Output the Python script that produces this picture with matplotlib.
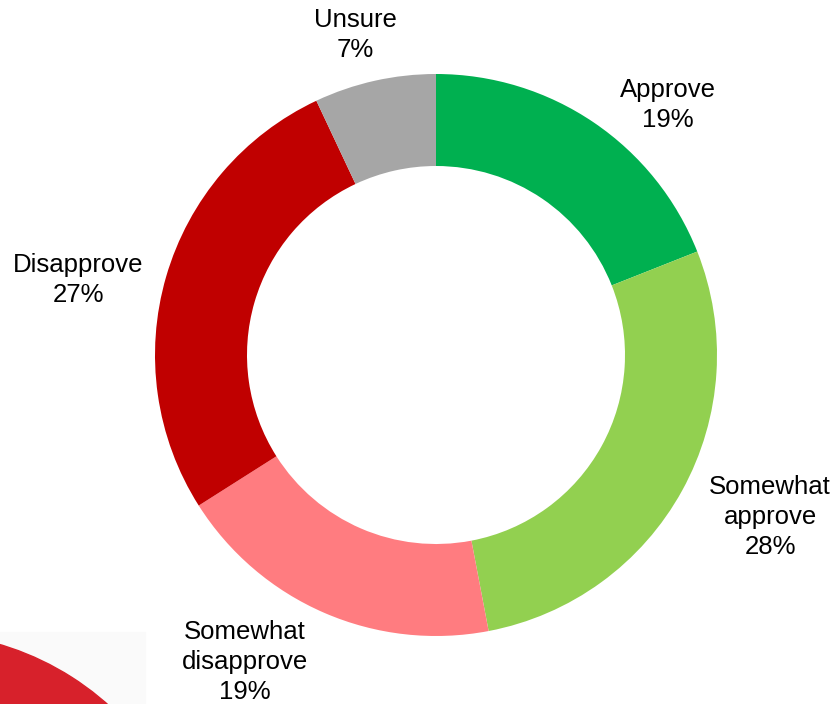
import matplotlib.pyplot as plt
from matplotlib.patches import Wedge, Rectangle

# data
categories = ["Approve", "Somewhat\napprove", "Somewhat\ndisapprove", "Disapprove", "Unsure"]
shares = [19, 28, 19, 27, 7]
colors = ["#00B050", "#92D050", "#FF7C80", "#C00000", "#A6A6A6"]

# label centres in pixel space (x, y from top)
label_pos = [(668, 105), (770, 517), (245, 662), (78, 280), (355, 35)]

W, H = 838, 704
plt.rcParams["font.family"] = ["Liberation Sans", "DejaVu Sans"]

fig = plt.figure(figsize=(W / 100, H / 100), dpi=100)
ax = fig.add_axes([0, 0, 1, 1])
ax.set_xlim(0, W)
ax.set_ylim(0, H)
ax.set_aspect("equal")
ax.axis("off")

# faint logo remnant in the lower-left corner
ax.add_patch(Rectangle((0, 0), 145, H - 632, color="#FAFAFA", zorder=0))
ax.add_patch(Wedge((-80, H - 915), 282, 30, 85, width=60, color="#D7212B", zorder=1))

ax.pie(shares, colors=colors, startangle=90, counterclock=False,
       center=(436, H - 355), radius=281,
       wedgeprops=dict(width=92, linewidth=0), frame=True)
ax.set_xlim(0, W)
ax.set_ylim(0, H)
ax.axis("off")

for (lx, ly), cat, s in zip(label_pos, categories, shares):
    ax.text(lx, H - ly, f"{cat}\n{s}%", ha="center", va="center",
            fontsize=18.5, linespacing=1.3, color="black")

fig.savefig("out.png", dpi=100)
